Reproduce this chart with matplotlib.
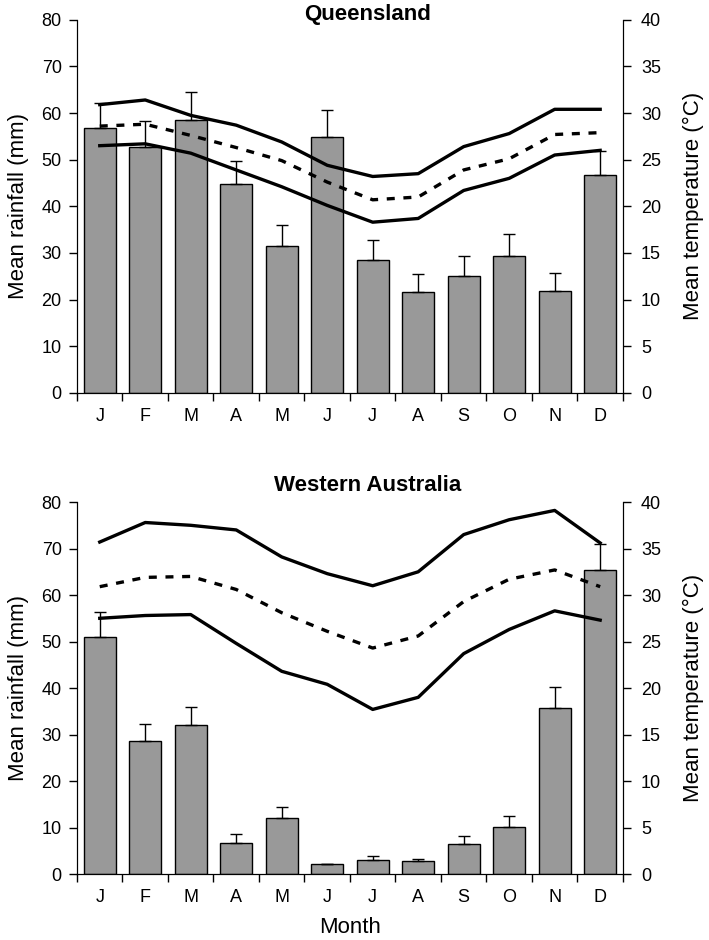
import numpy as np
import matplotlib
matplotlib.use("Agg")
import matplotlib.pyplot as plt

plt.rcParams['font.family'] = ['Liberation Sans', 'DejaVu Sans']

months = ["J", "F", "M", "A", "M", "J", "J", "A", "S", "O", "N", "D"]

# Queensland
qld_rain = [56.7, 52.8, 58.5, 44.7, 31.5, 54.9, 28.5, 21.7, 25.1, 29.4, 21.9, 46.7]
qld_rain_top = [62.2, 58.2, 64.5, 49.8, 36.1, 60.7, 32.7, 25.4, 29.4, 34.1, 25.8, 51.9]
qld_tmax = [30.9, 31.4, 29.75, 28.7, 26.9, 24.4, 23.2, 23.5, 26.4, 27.8, 30.4, 30.4]
qld_tmean = [28.6, 28.8, 27.6, 26.3, 24.9, 22.6, 20.7, 21.0, 23.9, 25.1, 27.7, 27.9]
qld_tmin = [26.5, 26.7, 25.7, 23.9, 22.1, 20.1, 18.3, 18.7, 21.7, 23.0, 25.5, 26.0]

# Western Australia
wa_rain = [51.0, 28.7, 32.0, 6.7, 12.0, 2.1, 3.1, 2.8, 6.5, 10.1, 35.6, 65.4]
wa_rain_top = [56.3, 32.3, 35.9, 8.5, 14.4, 2.1, 3.9, 3.3, 8.1, 12.4, 40.2, 70.9]
wa_tmax = [35.7, 37.8, 37.5, 37.0, 34.1, 32.3, 31.0, 32.5, 36.5, 38.1, 39.1, 35.6]
wa_tmean = [30.9, 31.9, 32.0, 30.6, 28.1, 26.1, 24.3, 25.6, 29.3, 31.7, 32.7, 30.9]
wa_tmin = [27.5, 27.8, 27.9, 24.8, 21.8, 20.4, 17.7, 19.0, 23.7, 26.3, 28.3, 27.3]

fig = plt.figure(figsize=(7.09, 9.4), dpi=100)


def panel(rect, title, title_y, rain, rain_top, tmax, tmean, tmin, show_xlabel):
    ax = fig.add_axes(rect)
    x = np.arange(len(months))
    rain = np.array(rain)
    err = np.array(rain_top) - rain
    ax.bar(x, rain, width=0.71, color="#999999", edgecolor="black", linewidth=1.0, zorder=2)
    ax.errorbar(x, rain, yerr=[np.zeros_like(err), err], fmt="none", ecolor="black",
                elinewidth=1.0, capsize=4, capthick=1.0, zorder=3)
    ax.set_xlim(-0.5, 11.5)
    ax.set_ylim(0, 80)
    ax.set_yticks(range(0, 81, 10))
    ax.set_xticks(x)
    ax.set_xticklabels(months, fontsize=13)
    ax.set_xticks(np.arange(-0.5, 12, 1), minor=True)
    ax.tick_params(axis="x", which="major", length=0, pad=11)
    ax.tick_params(axis="x", which="minor", length=6, width=1, direction="out")
    ax.tick_params(axis="y", length=6, width=1, direction="out", labelsize=13, pad=5)
    ax.spines["top"].set_visible(False)
    ax.set_ylabel("Mean rainfall (mm)", fontsize=16)
    ax.yaxis.set_label_coords(-0.108, 0.5)
    ax.yaxis.label.set_va("center")
    ax.text(0.533, title_y, title, transform=ax.transAxes, ha="center", va="baseline",
            fontsize=16, fontweight="bold")
    if show_xlabel:
        ax.set_xlabel("Month", fontsize=16)
        ax.xaxis.set_label_coords(0.5, -0.1425)
        ax.xaxis.label.set_va("center")

    # temperature lines on the right axis
    ax2 = ax.twinx()
    ax2.plot(x, tmax, color="black", lw=2.4)
    ax2.plot(x, tmean, color="black", lw=2.4, linestyle=(0, (2.4, 2.6)))
    ax2.plot(x, tmin, color="black", lw=2.4)
    ax2.set_ylim(0, 40)
    ax2.set_yticks(range(0, 41, 5))
    ax2.tick_params(axis="y", length=6, width=1, direction="out", labelsize=13, pad=7)
    ax2.spines["top"].set_visible(False)
    ax2.set_ylabel("Mean temperature (°C)", fontsize=16)
    ax2.yaxis.set_label_coords(1.130, 0.5)
    ax2.yaxis.label.set_va("center")
    return ax


panel([0.1086, 0.582, 0.770, 0.397], "Queensland", 1.0,
      qld_rain, qld_rain_top, qld_tmax, qld_tmean, qld_tmin, False)
panel([0.1086, 0.0702, 0.770, 0.3957], "Western Australia", 1.03,
      wa_rain, wa_rain_top, wa_tmax, wa_tmean, wa_tmin, True)

fig.savefig("out.png", dpi=100)
